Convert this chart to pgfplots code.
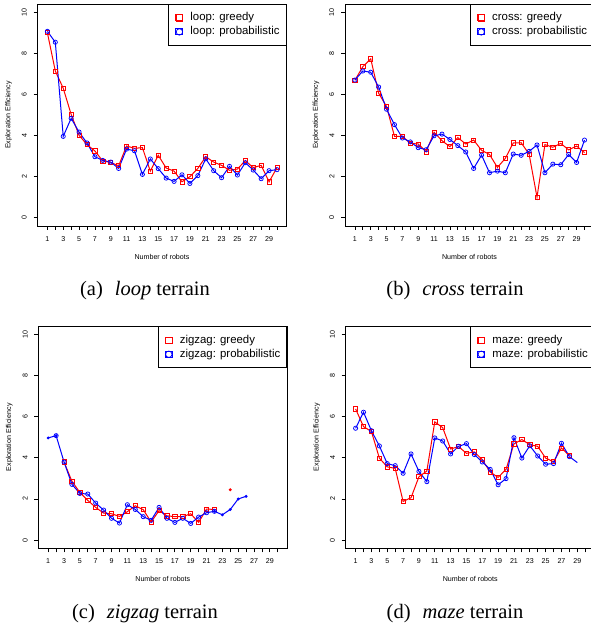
\documentclass[border=0pt]{standalone}
\usepackage{pgfplots}
\pgfplotsset{compat=1.18}
\usepackage{fontspec}
\setmainfont{Liberation Sans}
\newfontfamily\capfont{Liberation Serif}

\pgfplotsset{
  panel/.style={
    scale only axis, width=249pt, height=222pt, anchor=south west,
    xmin=-0.25, xmax=31.2, ymin=-0.4, ymax=10.4,
    xtick={1,...,30},
    xticklabels={1,,3,,5,,7,,9,,11,,13,,15,,17,,19,,21,,23,,25,,27,,29,},
    ytick={0,2,4,6,8,10}, yticklabels={0,2,4,6,8,10},
    tick pos=left, tick align=outside, major tick length=4pt,
    tick style={black, line width=0.8pt},
    axis line style={line width=0.9pt},
    tick label style={font=\fontsize{7.1}{8.5}\selectfont},
    yticklabel style={rotate=90, anchor=south, inner sep=1pt},
    xticklabel style={anchor=north, inner sep=1pt},
    xticklabel shift=5.5pt, yticklabel shift=5.5pt,
    label style={font=\fontsize{7.1}{8.5}\selectfont},
    xlabel={Number of robots},
    ylabel={Exploration Efficiency},
    xlabel style={at={(axis description cs:0.5,-0.138)}, anchor=center},
    ylabel style={at={(axis description cs:-0.1165,0.5)}, anchor=center},
    legend style={at={(1,1)}, anchor=north east, draw=black, line width=0.9pt,
      fill=white, font=\fontsize{11.4}{13.7}\selectfont,
      inner xsep=6.5pt, inner ysep=6.5pt, row sep=0pt, column sep=7pt,
      nodes={inner xsep=0pt, inner ysep=1.5pt, text height=8.5pt, text depth=2.5pt}},
    legend cell align=left,
    legend image code/.code={\path (0pt,-3pt) rectangle (7pt,3pt);
      \draw[##1, mark size=3.2pt, line width=0.8pt] plot coordinates {(3.5pt,0pt)};},
  },
  greedy/.style={red, line width=1pt, mark=square, mark size=2.1pt, mark options={solid, line width=0.75pt}},
  prob/.style={blue, line width=1pt, mark=o, mark size=2.1pt, mark options={solid, line width=0.75pt}},
  gextra/.style={red, line width=1pt, mark=*, mark size=0.9pt, forget plot},
  pextra/.style={blue, line width=1pt, mark=*, mark size=0.9pt, forget plot},
}

\begin{document}
\begin{tikzpicture}
\useasboundingbox (0pt,0pt) rectangle (590pt,626pt);

% (a) loop
\begin{axis}[panel, at={(37.5pt,400pt)}]
\addplot[greedy] coordinates {(1,9.0)(2,7.14)(3,6.30)(4,5.03)(5,4.01)(6,3.56)(7,3.25)(8,2.76)(9,2.69)(10,2.53)(11,3.49)(12,3.38)(13,3.41)(14,2.27)(15,3.04)(16,2.42)(17,2.27)(18,1.75)(19,2.0)(20,2.40)(21,2.97)(22,2.71)(23,2.55)(24,2.31)(25,2.37)(26,2.78)(27,2.44)(28,2.55)(29,1.75)(30,2.44)};
\addlegendentry{loop: greedy}
\addplot[prob] coordinates {(1,9.07)(2,8.54)(3,3.96)(4,4.84)(5,4.17)(6,3.64)(7,2.97)(8,2.79)(9,2.71)(10,2.40)(11,3.34)(12,3.26)(13,2.11)(14,2.86)(15,2.39)(16,1.93)(17,1.77)(18,2.09)(19,1.67)(20,2.05)(21,2.87)(22,2.29)(23,1.95)(24,2.50)(25,2.08)(26,2.68)(27,2.32)(28,1.90)(29,2.29)(30,2.34)};
\addlegendentry{loop: probabilistic}
\end{axis}

% (b) cross
\begin{axis}[panel, at={(345pt,400pt)}]
\addplot[greedy] coordinates {(1,6.69)(2,7.35)(3,7.73)(4,6.06)(5,5.41)(6,3.96)(7,3.96)(8,3.62)(9,3.59)(10,3.21)(11,4.16)(12,3.75)(13,3.46)(14,3.90)(15,3.59)(16,3.78)(17,3.28)(18,3.08)(19,2.45)(20,2.89)(21,3.64)(22,3.65)(23,3.10)(24,1.0)(25,3.56)(26,3.43)(27,3.62)(28,3.30)(29,3.49)(30,3.17)};
\addlegendentry{cross: greedy}
\addplot[prob] coordinates {(1,6.70)(2,7.14)(3,7.08)(4,6.36)(5,5.28)(6,4.53)(7,3.88)(8,3.69)(9,3.41)(10,3.31)(11,3.99)(12,4.07)(13,3.81)(14,3.51)(15,3.20)(16,2.40)(17,3.05)(18,2.19)(19,2.27)(20,2.19)(21,3.10)(22,3.04)(23,3.23)(24,3.54)(25,2.19)(26,2.61)(27,2.58)(28,3.08)(29,2.69)(30,3.78)};
\addlegendentry{cross: probabilistic}
\end{axis}

% (c) zigzag
\begin{axis}[panel, at={(38.3pt,77.7pt)}]
\addplot[greedy] coordinates {(3,3.80)(4,2.86)(5,2.32)(6,1.93)(7,1.59)(8,1.31)(9,1.28)(10,1.15)(11,1.38)(12,1.67)(13,1.48)(14,0.88)(15,1.43)(16,1.18)(17,1.14)(18,1.14)(19,1.28)(20,0.86)(21,1.51)(22,1.49)};
\addlegendentry{zigzag: greedy}
\addplot[prob] coordinates {(2,5.08)(3,3.80)(4,2.71)(5,2.27)(6,2.24)(7,1.80)(8,1.46)(9,1.06)(10,0.83)(11,1.72)(12,1.49)(13,1.14)(14,0.96)(15,1.59)(16,1.06)(17,0.86)(18,1.06)(19,0.81)(20,1.12)(21,1.33)(22,1.40)};
\addlegendentry{zigzag: probabilistic}
\addplot[gextra] coordinates {(24,2.45)};
\addplot[pextra] coordinates {(1,4.97)(2,5.08)};
\addplot[pextra] coordinates {(22,1.40)(23,1.23)(24,1.49)(25,2.0)(26,2.13)};
\end{axis}

% (d) maze
\begin{axis}[panel, at={(345.7pt,77.7pt)}]
\addplot[greedy] coordinates {(1,6.38)(2,5.52)(3,5.28)(4,3.99)(5,3.56)(6,3.49)(7,1.88)(8,2.06)(9,3.08)(10,3.36)(11,5.75)(12,5.47)(13,4.43)(14,4.55)(15,4.22)(16,4.29)(17,3.91)(18,3.31)(19,3.05)(20,3.44)(21,4.68)(22,4.89)(23,4.64)(24,4.56)(25,3.99)(26,3.81)(27,4.48)(28,4.11)};
\addlegendentry{maze: greedy}
\addplot[prob] coordinates {(1,5.44)(2,6.22)(3,5.32)(4,4.58)(5,3.72)(6,3.62)(7,3.25)(8,4.19)(9,3.34)(10,2.84)(11,4.97)(12,4.82)(13,4.19)(14,4.56)(15,4.69)(16,4.16)(17,3.80)(18,3.44)(19,2.69)(20,2.99)(21,4.98)(22,3.99)(23,4.59)(24,4.09)(25,3.69)(26,3.72)(27,4.71)(28,4.06)};
\addlegendentry{maze: probabilistic}
\addplot[blue, line width=1pt, forget plot] coordinates {(28,4.06)(29,3.77)};
\end{axis}

\node[anchor=base, font=\capfont\fontsize{20.5}{24}\selectfont] at (145pt,330pt) {(a)\hspace{12pt}\textit{loop} terrain};
\node[anchor=base, font=\capfont\fontsize{20.5}{24}\selectfont] at (455pt,330pt) {(b)\hspace{12pt}\textit{cross} terrain};
\node[anchor=base, font=\capfont\fontsize{20.5}{24}\selectfont] at (145pt,8pt) {(c)\hspace{12pt}\textit{zigzag} terrain};
\node[anchor=base, font=\capfont\fontsize{20.5}{24}\selectfont] at (455pt,8pt) {(d)\hspace{12pt}\textit{maze} terrain};
\end{tikzpicture}
\end{document}
